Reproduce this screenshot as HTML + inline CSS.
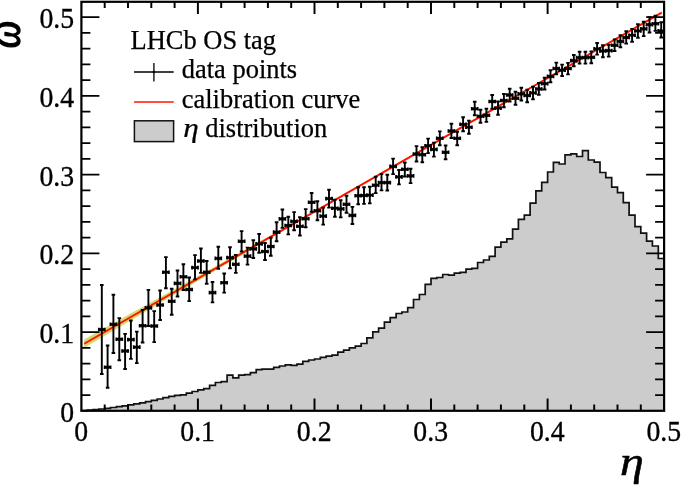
<!DOCTYPE html>
<html><head><meta charset="utf-8"><title>LHCb OS tag calibration</title>
<style>html,body{margin:0;padding:0;background:#fff}svg{display:block}</style></head>
<body>
<svg width="685" height="488" viewBox="0 0 685 488" font-family="'Liberation Serif', 'Times New Roman', serif">
<rect width="685" height="488" fill="#fff"/>
<path d="M81.4,410.8 L81.4,410.6 L87.2,410.6 L87.2,410.2 L93.1,410.2 L93.1,409.7 L98.9,409.7 L98.9,409.0 L104.7,409.0 L104.7,408.3 L110.5,408.3 L110.5,407.5 L116.4,407.5 L116.4,406.7 L122.2,406.7 L122.2,405.8 L128.0,405.8 L128.0,404.9 L133.8,404.9 L133.8,403.9 L139.7,403.9 L139.7,402.8 L145.5,402.8 L145.5,401.6 L151.3,401.6 L151.3,400.4 L157.2,400.4 L157.2,399.0 L163.0,399.0 L163.0,397.6 L168.8,397.6 L168.8,396.3 L174.6,396.3 L174.6,395.4 L180.5,395.4 L180.5,394.8 L186.3,394.8 L186.3,393.1 L192.1,393.1 L192.1,391.5 L197.9,391.5 L197.9,389.9 L203.8,389.9 L203.8,388.6 L209.6,388.6 L209.6,385.4 L215.4,385.4 L215.4,382.5 L221.2,382.5 L221.2,381.7 L227.1,381.7 L227.1,375.2 L232.9,375.2 L232.9,377.8 L238.7,377.8 L238.7,375.2 L244.6,375.2 L244.6,374.7 L250.4,374.7 L250.4,372.7 L256.2,372.7 L256.2,369.6 L262.0,369.6 L262.0,369.2 L267.9,369.2 L267.9,369.2 L273.7,369.2 L273.7,367.4 L279.5,367.4 L279.5,366.0 L285.3,366.0 L285.3,364.9 L291.2,364.9 L291.2,365.3 L297.0,365.3 L297.0,364.1 L302.8,364.1 L302.8,361.3 L308.7,361.3 L308.7,360.0 L314.5,360.0 L314.5,359.0 L320.3,359.0 L320.3,357.3 L326.1,357.3 L326.1,356.1 L332.0,356.1 L332.0,355.1 L337.8,355.1 L337.8,352.1 L343.6,352.1 L343.6,350.1 L349.4,350.1 L349.4,347.9 L355.3,347.9 L355.3,346.2 L361.1,346.2 L361.1,343.5 L366.9,343.5 L366.9,337.8 L372.8,337.8 L372.8,331.9 L378.6,331.9 L378.6,328.2 L384.4,328.2 L384.4,322.1 L390.2,322.1 L390.2,317.7 L396.1,317.7 L396.1,313.5 L401.9,313.5 L401.9,312.0 L407.7,312.0 L407.7,307.6 L413.5,307.6 L413.5,299.5 L419.4,299.5 L419.4,294.5 L425.2,294.5 L425.2,284.4 L431.0,284.4 L431.0,278.3 L436.8,278.3 L436.8,277.5 L442.7,277.5 L442.7,274.5 L448.5,274.5 L448.5,275.1 L454.3,275.1 L454.3,273.2 L460.2,273.2 L460.2,272.3 L466.0,272.3 L466.0,269.2 L471.8,269.2 L471.8,268.3 L477.6,268.3 L477.6,262.5 L483.5,262.5 L483.5,260.0 L489.3,260.0 L489.3,256.3 L495.1,256.3 L495.1,247.1 L500.9,247.1 L500.9,242.2 L506.8,242.2 L506.8,238.8 L512.6,238.8 L512.6,229.2 L518.4,229.2 L518.4,219.4 L524.3,219.4 L524.3,215.1 L530.1,215.1 L530.1,203.1 L535.9,203.1 L535.9,190.8 L541.7,190.8 L541.7,182.4 L547.6,182.4 L547.6,172.0 L553.4,172.0 L553.4,162.3 L559.2,162.3 L559.2,164.0 L565.0,164.0 L565.0,154.9 L570.9,154.9 L570.9,153.9 L576.7,153.9 L576.7,156.5 L582.5,156.5 L582.5,150.7 L588.3,150.7 L588.3,160.0 L594.2,160.0 L594.2,162.1 L600.0,162.1 L600.0,172.5 L605.8,172.5 L605.8,177.6 L611.7,177.6 L611.7,187.1 L617.5,187.1 L617.5,192.7 L623.3,192.7 L623.3,202.6 L629.1,202.6 L629.1,215.1 L635.0,215.1 L635.0,226.6 L640.8,226.6 L640.8,233.2 L646.6,233.2 L646.6,241.2 L652.4,241.2 L652.4,246.0 L658.3,246.0 L658.3,258.5 L664.1,258.5 L664.1,410.8 Z" fill="#cccccc" stroke="none"/>
<path d="M81.4,410.8 L81.4,410.6 L87.2,410.6 L87.2,410.2 L93.1,410.2 L93.1,409.7 L98.9,409.7 L98.9,409.0 L104.7,409.0 L104.7,408.3 L110.5,408.3 L110.5,407.5 L116.4,407.5 L116.4,406.7 L122.2,406.7 L122.2,405.8 L128.0,405.8 L128.0,404.9 L133.8,404.9 L133.8,403.9 L139.7,403.9 L139.7,402.8 L145.5,402.8 L145.5,401.6 L151.3,401.6 L151.3,400.4 L157.2,400.4 L157.2,399.0 L163.0,399.0 L163.0,397.6 L168.8,397.6 L168.8,396.3 L174.6,396.3 L174.6,395.4 L180.5,395.4 L180.5,394.8 L186.3,394.8 L186.3,393.1 L192.1,393.1 L192.1,391.5 L197.9,391.5 L197.9,389.9 L203.8,389.9 L203.8,388.6 L209.6,388.6 L209.6,385.4 L215.4,385.4 L215.4,382.5 L221.2,382.5 L221.2,381.7 L227.1,381.7 L227.1,375.2 L232.9,375.2 L232.9,377.8 L238.7,377.8 L238.7,375.2 L244.6,375.2 L244.6,374.7 L250.4,374.7 L250.4,372.7 L256.2,372.7 L256.2,369.6 L262.0,369.6 L262.0,369.2 L267.9,369.2 L267.9,369.2 L273.7,369.2 L273.7,367.4 L279.5,367.4 L279.5,366.0 L285.3,366.0 L285.3,364.9 L291.2,364.9 L291.2,365.3 L297.0,365.3 L297.0,364.1 L302.8,364.1 L302.8,361.3 L308.7,361.3 L308.7,360.0 L314.5,360.0 L314.5,359.0 L320.3,359.0 L320.3,357.3 L326.1,357.3 L326.1,356.1 L332.0,356.1 L332.0,355.1 L337.8,355.1 L337.8,352.1 L343.6,352.1 L343.6,350.1 L349.4,350.1 L349.4,347.9 L355.3,347.9 L355.3,346.2 L361.1,346.2 L361.1,343.5 L366.9,343.5 L366.9,337.8 L372.8,337.8 L372.8,331.9 L378.6,331.9 L378.6,328.2 L384.4,328.2 L384.4,322.1 L390.2,322.1 L390.2,317.7 L396.1,317.7 L396.1,313.5 L401.9,313.5 L401.9,312.0 L407.7,312.0 L407.7,307.6 L413.5,307.6 L413.5,299.5 L419.4,299.5 L419.4,294.5 L425.2,294.5 L425.2,284.4 L431.0,284.4 L431.0,278.3 L436.8,278.3 L436.8,277.5 L442.7,277.5 L442.7,274.5 L448.5,274.5 L448.5,275.1 L454.3,275.1 L454.3,273.2 L460.2,273.2 L460.2,272.3 L466.0,272.3 L466.0,269.2 L471.8,269.2 L471.8,268.3 L477.6,268.3 L477.6,262.5 L483.5,262.5 L483.5,260.0 L489.3,260.0 L489.3,256.3 L495.1,256.3 L495.1,247.1 L500.9,247.1 L500.9,242.2 L506.8,242.2 L506.8,238.8 L512.6,238.8 L512.6,229.2 L518.4,229.2 L518.4,219.4 L524.3,219.4 L524.3,215.1 L530.1,215.1 L530.1,203.1 L535.9,203.1 L535.9,190.8 L541.7,190.8 L541.7,182.4 L547.6,182.4 L547.6,172.0 L553.4,172.0 L553.4,162.3 L559.2,162.3 L559.2,164.0 L565.0,164.0 L565.0,154.9 L570.9,154.9 L570.9,153.9 L576.7,153.9 L576.7,156.5 L582.5,156.5 L582.5,150.7 L588.3,150.7 L588.3,160.0 L594.2,160.0 L594.2,162.1 L600.0,162.1 L600.0,172.5 L605.8,172.5 L605.8,177.6 L611.7,177.6 L611.7,187.1 L617.5,187.1 L617.5,192.7 L623.3,192.7 L623.3,202.6 L629.1,202.6 L629.1,215.1 L635.0,215.1 L635.0,226.6 L640.8,226.6 L640.8,233.2 L646.6,233.2 L646.6,241.2 L652.4,241.2 L652.4,246.0 L658.3,246.0 L658.3,258.5 L664.1,258.5 L664.1,410.8" fill="none" stroke="#111" stroke-width="1.7" stroke-linejoin="miter"/>
<path d="M84.2,339.4 L93.8,334.1 L103.5,328.7 L113.1,323.3 L122.7,318.0 L132.3,312.6 L142.0,307.3 L151.6,301.9 L161.2,296.5 L170.8,291.2 L180.5,285.8 L190.1,280.4 L199.7,275.0 L209.3,269.7 L219.0,264.3 L228.6,258.9 L238.2,253.5 L247.9,248.1 L257.5,242.7 L267.1,237.3 L276.7,231.9 L286.4,226.5 L296.0,221.1 L305.6,215.7 L315.2,210.2 L324.9,204.7 L334.5,199.2 L344.1,193.7 L353.7,188.2 L363.4,182.7 L373.0,177.1 L382.6,171.6 L392.3,166.1 L401.9,160.6 L411.5,155.1 L421.1,149.6 L430.8,144.0 L440.4,138.5 L450.0,133.0 L459.6,127.5 L469.3,122.0 L478.9,116.5 L488.5,110.9 L498.1,105.4 L507.8,99.9 L517.4,94.4 L527.0,88.9 L536.7,83.4 L546.3,77.8 L555.9,72.3 L565.5,66.8 L575.2,61.3 L584.8,55.8 L594.4,50.3 L604.0,44.7 L613.7,39.2 L623.3,33.7 L632.9,28.2 L642.5,22.7 L652.2,17.2 L661.8,11.6 L661.8,13.6 L652.2,19.2 L642.5,24.7 L632.9,30.2 L623.3,35.7 L613.7,41.2 L604.0,46.7 L594.4,52.3 L584.8,57.8 L575.2,63.3 L565.5,68.8 L555.9,74.3 L546.3,79.8 L536.7,85.4 L527.0,90.9 L517.4,96.4 L507.8,101.9 L498.1,107.4 L488.5,112.9 L478.9,118.5 L469.3,124.0 L459.6,129.5 L450.0,135.0 L440.4,140.5 L430.8,146.0 L421.1,151.6 L411.5,157.1 L401.9,162.6 L392.3,168.1 L382.6,173.6 L373.0,179.1 L363.4,184.7 L353.7,190.2 L344.1,195.7 L334.5,201.2 L324.9,206.7 L315.2,212.2 L305.6,217.8 L296.0,223.4 L286.4,229.1 L276.7,234.7 L267.1,240.3 L257.5,246.0 L247.9,251.6 L238.2,257.2 L228.6,262.9 L219.0,268.5 L209.3,274.2 L199.7,279.9 L190.1,285.5 L180.5,291.2 L170.8,296.8 L161.2,302.5 L151.6,308.2 L142.0,313.9 L132.3,319.5 L122.7,325.2 L113.1,330.9 L103.5,336.6 L93.8,342.2 L84.2,347.9 Z" fill="#d6d870" stroke="none"/>
<line x1="84.2" y1="343.7" x2="661.8" y2="12.6" stroke="#ff1200" stroke-width="1.9"/>
<path d="M101.8,285.0V374.0M100.0,285.0h3.6M100.0,374.0h3.6M98.9,327.7v3.6M104.7,327.7v3.6M107.6,345.5V387.8M105.8,345.5h3.6M105.8,387.8h3.6M104.7,365.4v3.6M110.5,365.4v3.6M113.4,294.7V353.0M111.6,294.7h3.6M111.6,353.0h3.6M110.5,322.5v3.6M116.4,322.5v3.6M119.3,318.1V360.2M117.5,318.1h3.6M117.5,360.2h3.6M116.4,337.4v3.6M122.2,337.4v3.6M125.1,333.9V369.0M123.3,333.9h3.6M123.3,369.0h3.6M122.2,349.2v3.6M128.0,349.2v3.6M130.9,320.5V358.9M129.1,320.5h3.6M129.1,358.9h3.6M128.0,337.8v3.6M133.8,337.8v3.6M136.8,331.6V363.1M135.0,331.6h3.6M135.0,363.1h3.6M133.8,345.3v3.6M139.7,345.3v3.6M142.6,310.0V342.5M140.8,310.0h3.6M140.8,342.5h3.6M139.7,323.9v3.6M145.5,323.9v3.6M148.4,289.9V326.0M146.6,289.9h3.6M146.6,326.0h3.6M145.5,306.1v3.6M151.3,306.1v3.6M154.2,311.1V342.1M152.4,311.1h3.6M152.4,342.1h3.6M151.3,324.2v3.6M157.2,324.2v3.6M160.1,290.5V320.0M158.3,290.5h3.6M158.3,320.0h3.6M157.2,303.2v3.6M163.0,303.2v3.6M165.9,257.1V288.2M164.1,257.1h3.6M164.1,288.2h3.6M163.0,270.4v3.6M168.8,270.4v3.6M171.7,288.7V314.8M169.9,288.7h3.6M169.9,314.8h3.6M168.8,299.5v3.6M174.6,299.5v3.6M177.5,270.5V296.5M175.7,270.5h3.6M175.7,296.5h3.6M174.6,281.6v3.6M180.5,281.6v3.6M183.4,264.3V290.0M181.6,264.3h3.6M181.6,290.0h3.6M180.5,275.0v3.6M186.3,275.0v3.6M189.2,277.5V301.1M187.4,277.5h3.6M187.4,301.1h3.6M186.3,287.7v3.6M192.1,287.7v3.6M195.0,255.1V279.4M193.2,255.1h3.6M193.2,279.4h3.6M192.1,265.8v3.6M197.9,265.8v3.6M200.9,248.5V272.9M199.1,248.5h3.6M199.1,272.9h3.6M197.9,259.2v3.6M203.8,259.2v3.6M206.7,261.0V283.8M204.9,261.0h3.6M204.9,283.8h3.6M203.8,270.4v3.6M209.6,270.4v3.6M212.5,282.0V302.4M210.7,282.0h3.6M210.7,302.4h3.6M209.6,290.8v3.6M215.4,290.8v3.6M218.3,246.8V268.9M216.5,246.8h3.6M216.5,268.9h3.6M215.4,256.6v3.6M221.2,256.6v3.6M224.2,273.5V292.6M222.4,273.5h3.6M222.4,292.6h3.6M221.2,280.9v3.6M227.1,280.9v3.6M230.0,247.2V268.3M228.2,247.2h3.6M228.2,268.3h3.6M227.1,255.8v3.6M232.9,255.8v3.6M235.8,255.0V272.9M234.0,255.0h3.6M234.0,272.9h3.6M232.9,262.5v3.6M238.7,262.5v3.6M241.6,231.1V251.5M239.8,231.1h3.6M239.8,251.5h3.6M238.7,239.5v3.6M244.6,239.5v3.6M247.5,247.6V264.6M245.7,247.6h3.6M245.7,264.6h3.6M244.6,254.3v3.6M250.4,254.3v3.6M253.3,240.3V258.0M251.5,240.3h3.6M251.5,258.0h3.6M250.4,247.1v3.6M256.2,247.1v3.6M259.1,234.0V252.8M257.3,234.0h3.6M257.3,252.8h3.6M256.2,242.1v3.6M262.0,242.1v3.6M265.0,243.0V260.0M263.2,243.0h3.6M263.2,260.0h3.6M262.0,249.7v3.6M267.9,249.7v3.6M270.8,237.7V255.8M269.0,237.7h3.6M269.0,255.8h3.6M267.9,244.7v3.6M273.7,244.7v3.6M276.6,222.3V241.3M274.8,222.3h3.6M274.8,241.3h3.6M273.7,230.3v3.6M279.5,230.3v3.6M282.4,209.5V227.9M280.6,209.5h3.6M280.6,227.9h3.6M279.5,217.1v3.6M285.3,217.1v3.6M288.3,216.7V234.4M286.5,216.7h3.6M286.5,234.4h3.6M285.3,223.7v3.6M291.2,223.7v3.6M294.1,212.1V230.2M292.3,212.1h3.6M292.3,230.2h3.6M291.2,219.5v3.6M297.0,219.5v3.6M299.9,217.3V235.5M298.1,217.3h3.6M298.1,235.5h3.6M297.0,224.5v3.6M302.8,224.5v3.6M305.7,209.1V227.2M303.9,209.1h3.6M303.9,227.2h3.6M302.8,216.9v3.6M308.7,216.9v3.6M311.6,193.0V211.7M309.8,193.0h3.6M309.8,211.7h3.6M308.7,200.5v3.6M314.5,200.5v3.6M317.4,201.3V220.2M315.6,201.3h3.6M315.6,220.2h3.6M314.5,209.0v3.6M320.3,209.0v3.6M323.2,207.6V224.6M321.4,207.6h3.6M321.4,224.6h3.6M320.3,214.3v3.6M326.1,214.3v3.6M329.0,189.8V207.6M327.2,189.8h3.6M327.2,207.6h3.6M326.1,196.8v3.6M332.0,196.8v3.6M334.9,199.7V216.8M333.1,199.7h3.6M333.1,216.8h3.6M332.0,206.4v3.6M337.8,206.4v3.6M340.7,200.3V217.4M338.9,200.3h3.6M338.9,217.4h3.6M337.8,207.1v3.6M343.6,207.1v3.6M346.5,195.7V212.8M344.7,195.7h3.6M344.7,212.8h3.6M343.6,202.5v3.6M349.4,202.5v3.6M352.4,206.9V224.0M350.6,206.9h3.6M350.6,224.0h3.6M349.4,213.6v3.6M355.3,213.6v3.6M358.2,187.2V204.3M356.4,187.2h3.6M356.4,204.3h3.6M355.3,193.9v3.6M361.1,193.9v3.6M364.0,187.2V203.9M362.2,187.2h3.6M362.2,203.9h3.6M361.1,193.7v3.6M366.9,193.7v3.6M369.8,186.8V203.4M368.0,186.8h3.6M368.0,203.4h3.6M366.9,193.3v3.6M372.8,193.3v3.6M375.7,176.7V193.1M373.9,176.7h3.6M373.9,193.1h3.6M372.8,183.4v3.6M378.6,183.4v3.6M381.5,174.1V190.4M379.7,174.1h3.6M379.7,190.4h3.6M378.6,180.8v3.6M384.4,180.8v3.6M387.3,174.7V190.5M385.5,174.7h3.6M385.5,190.5h3.6M384.4,180.8v3.6M390.2,180.8v3.6M393.1,158.6V174.1M391.3,158.6h3.6M391.3,174.1h3.6M390.2,164.6v3.6M396.1,164.6v3.6M399.0,170.0V184.4M397.2,170.0h3.6M397.2,184.4h3.6M396.1,175.1v3.6M401.9,175.1v3.6M404.8,162.5V176.5M403.0,162.5h3.6M403.0,176.5h3.6M401.9,167.5v3.6M407.7,167.5v3.6M410.6,168.7V183.1M408.8,168.7h3.6M408.8,183.1h3.6M407.7,174.1v3.6M413.5,174.1v3.6M416.5,146.1V161.5M414.7,146.1h3.6M414.7,161.5h3.6M413.5,152.2v3.6M419.4,152.2v3.6M422.3,147.2V162.2M420.5,147.2h3.6M420.5,162.2h3.6M419.4,152.9v3.6M425.2,152.9v3.6M428.1,138.6V153.1M426.3,138.6h3.6M426.3,153.1h3.6M425.2,143.9v3.6M431.0,143.9v3.6M433.9,142.6V156.6M432.1,142.6h3.6M432.1,156.6h3.6M431.0,147.6v3.6M436.8,147.6v3.6M439.8,131.4V145.2M438.0,131.4h3.6M438.0,145.2h3.6M436.8,136.5v3.6M442.7,136.5v3.6M445.6,145.5V159.3M443.8,145.5h3.6M443.8,159.3h3.6M442.7,150.5v3.6M448.5,150.5v3.6M451.4,123.8V138.0M449.6,123.8h3.6M449.6,138.0h3.6M448.5,129.2v3.6M454.3,129.2v3.6M457.2,131.7V145.2M455.4,131.7h3.6M455.4,145.2h3.6M454.3,136.5v3.6M460.2,136.5v3.6M463.1,117.2V131.2M461.3,117.2h3.6M461.3,131.2h3.6M460.2,122.5v3.6M466.0,122.5v3.6M468.9,120.6V133.7M467.1,120.6h3.6M467.1,133.7h3.6M466.0,125.4v3.6M471.8,125.4v3.6M474.7,101.8V115.3M472.9,101.8h3.6M472.9,115.3h3.6M471.8,107.0v3.6M477.6,107.0v3.6M480.5,109.7V122.8M478.7,109.7h3.6M478.7,122.8h3.6M477.6,114.5v3.6M483.5,114.5v3.6M486.4,108.8V121.9M484.6,108.8h3.6M484.6,121.9h3.6M483.5,113.5v3.6M489.3,113.5v3.6M492.2,95.0V108.8M490.4,95.0h3.6M490.4,108.8h3.6M489.3,99.7v3.6M495.1,99.7v3.6M498.0,101.5V114.7M496.2,101.5h3.6M496.2,114.7h3.6M495.1,106.3v3.6M500.9,106.3v3.6M503.9,94.0V107.2M502.1,94.0h3.6M502.1,107.2h3.6M500.9,98.7v3.6M506.8,98.7v3.6M509.7,88.8V101.5M507.9,88.8h3.6M507.9,101.5h3.6M506.8,93.2v3.6M512.6,93.2v3.6M515.5,91.7V104.8M513.7,91.7h3.6M513.7,104.8h3.6M512.6,96.5v3.6M518.4,96.5v3.6M521.3,87.7V100.5M519.5,87.7h3.6M519.5,100.5h3.6M518.4,92.1v3.6M524.3,92.1v3.6M527.2,89.7V102.2M525.4,89.7h3.6M525.4,102.2h3.6M524.3,93.7v3.6M530.1,93.7v3.6M533.0,86.8V99.2M531.2,86.8h3.6M531.2,99.2h3.6M530.1,91.1v3.6M535.9,91.1v3.6M538.8,83.0V94.8M537.0,83.0h3.6M537.0,94.8h3.6M535.9,87.2v3.6M541.7,87.2v3.6M544.6,77.7V89.5M542.8,77.7h3.6M542.8,89.5h3.6M541.7,81.8v3.6M547.6,81.8v3.6M550.5,70.2V82.3M548.7,70.2h3.6M548.7,82.3h3.6M547.6,74.6v3.6M553.4,74.6v3.6M556.3,62.6V74.2M554.5,62.6h3.6M554.5,74.2h3.6M553.4,66.7v3.6M559.2,66.7v3.6M562.1,64.6V76.0M560.3,64.6h3.6M560.3,76.0h3.6M559.2,68.4v3.6M565.0,68.4v3.6M568.0,62.9V74.4M566.2,62.9h3.6M566.2,74.4h3.6M565.0,66.7v3.6M570.9,66.7v3.6M573.8,55.0V66.3M572.0,55.0h3.6M572.0,66.3h3.6M570.9,58.8v3.6M576.7,58.8v3.6M579.6,51.8V63.6M577.8,51.8h3.6M577.8,63.6h3.6M576.7,55.8v3.6M582.5,55.8v3.6M585.4,51.8V63.6M583.6,51.8h3.6M583.6,63.6h3.6M582.5,55.8v3.6M588.3,55.8v3.6M591.3,51.4V63.3M589.5,51.4h3.6M589.5,63.3h3.6M588.3,55.5v3.6M594.2,55.5v3.6M597.1,43.0V54.6M595.3,43.0h3.6M595.3,54.6h3.6M594.2,47.1v3.6M600.0,47.1v3.6M602.9,45.3V57.2M601.1,45.3h3.6M601.1,57.2h3.6M600.0,49.2v3.6M605.8,49.2v3.6M608.7,44.9V56.6M606.9,44.9h3.6M606.9,56.6h3.6M605.8,48.8v3.6M611.7,48.8v3.6M614.6,39.4V51.0M612.8,39.4h3.6M612.8,51.0h3.6M611.7,43.5v3.6M617.5,43.5v3.6M620.4,35.2V47.3M618.6,35.2h3.6M618.6,47.3h3.6M617.5,39.6v3.6M623.3,39.6v3.6M626.2,31.3V43.6M624.4,31.3h3.6M624.4,43.6h3.6M623.3,35.7v3.6M629.1,35.7v3.6M632.1,28.9V41.8M630.3,28.9h3.6M630.3,41.8h3.6M629.1,33.4v3.6M635.0,33.4v3.6M637.9,24.3V37.7M636.1,24.3h3.6M636.1,37.7h3.6M635.0,29.1v3.6M640.8,29.1v3.6M643.7,21.7V36.1M641.9,21.7h3.6M641.9,36.1h3.6M640.8,27.1v3.6M646.6,27.1v3.6M649.5,17.1V32.5M647.7,17.1h3.6M647.7,32.5h3.6M646.6,22.9v3.6M652.4,22.9v3.6M655.4,15.8V30.9M653.6,15.8h3.6M653.6,30.9h3.6M652.4,21.9v3.6M658.3,21.9v3.6M661.2,22.3V37.5M659.4,22.3h3.6M659.4,37.5h3.6M658.3,29.1v3.6M664.1,29.1v3.6" fill="none" stroke="#000" stroke-width="1.9"/>
<path d="M98.5,329.5h6.6M104.3,367.2h6.6M110.1,324.3h6.6M116.0,339.2h6.6M121.8,351.0h6.6M127.6,339.6h6.6M133.4,347.1h6.6M139.3,325.7h6.6M145.1,307.9h6.6M150.9,326.0h6.6M156.8,305.0h6.6M162.6,272.2h6.6M168.4,301.3h6.6M174.2,283.4h6.6M180.1,276.8h6.6M185.9,289.5h6.6M191.7,267.6h6.6M197.5,261.0h6.6M203.4,272.2h6.6M209.2,292.6h6.6M215.0,258.4h6.6M220.8,282.7h6.6M226.7,257.6h6.6M232.5,264.3h6.6M238.3,241.3h6.6M244.2,256.1h6.6M250.0,248.9h6.6M255.8,243.9h6.6M261.6,251.5h6.6M267.5,246.5h6.6M273.3,232.1h6.6M279.1,218.9h6.6M284.9,225.5h6.6M290.8,221.3h6.6M296.6,226.3h6.6M302.4,218.7h6.6M308.3,202.3h6.6M314.1,210.8h6.6M319.9,216.1h6.6M325.7,198.6h6.6M331.6,208.2h6.6M337.4,208.9h6.6M343.2,204.3h6.6M349.0,215.4h6.6M354.9,195.7h6.6M360.7,195.5h6.6M366.5,195.1h6.6M372.4,185.2h6.6M378.2,182.6h6.6M384.0,182.6h6.6M389.8,166.4h6.6M395.7,176.9h6.6M401.5,169.3h6.6M407.3,175.9h6.6M413.1,154.0h6.6M419.0,154.7h6.6M424.8,145.7h6.6M430.6,149.4h6.6M436.4,138.3h6.6M442.3,152.3h6.6M448.1,131.0h6.6M453.9,138.3h6.6M459.8,124.3h6.6M465.6,127.2h6.6M471.4,108.8h6.6M477.2,116.3h6.6M483.1,115.3h6.6M488.9,101.5h6.6M494.7,108.1h6.6M500.5,100.5h6.6M506.4,95.0h6.6M512.2,98.3h6.6M518.0,93.9h6.6M523.9,95.5h6.6M529.7,92.9h6.6M535.5,89.0h6.6M541.3,83.6h6.6M547.2,76.4h6.6M553.0,68.5h6.6M558.8,70.2h6.6M564.6,68.5h6.6M570.5,60.6h6.6M576.3,57.6h6.6M582.1,57.6h6.6M587.9,57.3h6.6M593.8,48.9h6.6M599.6,51.0h6.6M605.4,50.6h6.6M611.3,45.3h6.6M617.1,41.4h6.6M622.9,37.5h6.6M628.7,35.2h6.6M634.6,30.9h6.6M640.4,28.9h6.6M646.2,24.7h6.6M652.0,23.7h6.6M657.9,30.9h6.6" fill="none" stroke="#000" stroke-width="2.3"/>
<g fill="#000"><circle cx="101.8" cy="329.5" r="1.9"/><circle cx="107.6" cy="367.2" r="1.9"/><circle cx="113.4" cy="324.3" r="1.9"/><circle cx="119.3" cy="339.2" r="1.9"/><circle cx="125.1" cy="351.0" r="1.9"/><circle cx="130.9" cy="339.6" r="1.9"/><circle cx="136.8" cy="347.1" r="1.9"/><circle cx="142.6" cy="325.7" r="1.9"/><circle cx="148.4" cy="307.9" r="1.9"/><circle cx="154.2" cy="326.0" r="1.9"/><circle cx="160.1" cy="305.0" r="1.9"/><circle cx="165.9" cy="272.2" r="1.9"/><circle cx="171.7" cy="301.3" r="1.9"/><circle cx="177.5" cy="283.4" r="1.9"/><circle cx="183.4" cy="276.8" r="1.9"/><circle cx="189.2" cy="289.5" r="1.9"/><circle cx="195.0" cy="267.6" r="1.9"/><circle cx="200.9" cy="261.0" r="1.9"/><circle cx="206.7" cy="272.2" r="1.9"/><circle cx="212.5" cy="292.6" r="1.9"/><circle cx="218.3" cy="258.4" r="1.9"/><circle cx="224.2" cy="282.7" r="1.9"/><circle cx="230.0" cy="257.6" r="1.9"/><circle cx="235.8" cy="264.3" r="1.9"/><circle cx="241.6" cy="241.3" r="1.9"/><circle cx="247.5" cy="256.1" r="1.9"/><circle cx="253.3" cy="248.9" r="1.9"/><circle cx="259.1" cy="243.9" r="1.9"/><circle cx="265.0" cy="251.5" r="1.9"/><circle cx="270.8" cy="246.5" r="1.9"/><circle cx="276.6" cy="232.1" r="1.9"/><circle cx="282.4" cy="218.9" r="1.9"/><circle cx="288.3" cy="225.5" r="1.9"/><circle cx="294.1" cy="221.3" r="1.9"/><circle cx="299.9" cy="226.3" r="1.9"/><circle cx="305.7" cy="218.7" r="1.9"/><circle cx="311.6" cy="202.3" r="1.9"/><circle cx="317.4" cy="210.8" r="1.9"/><circle cx="323.2" cy="216.1" r="1.9"/><circle cx="329.0" cy="198.6" r="1.9"/><circle cx="334.9" cy="208.2" r="1.9"/><circle cx="340.7" cy="208.9" r="1.9"/><circle cx="346.5" cy="204.3" r="1.9"/><circle cx="352.4" cy="215.4" r="1.9"/><circle cx="358.2" cy="195.7" r="1.9"/><circle cx="364.0" cy="195.5" r="1.9"/><circle cx="369.8" cy="195.1" r="1.9"/><circle cx="375.7" cy="185.2" r="1.9"/><circle cx="381.5" cy="182.6" r="1.9"/><circle cx="387.3" cy="182.6" r="1.9"/><circle cx="393.1" cy="166.4" r="1.9"/><circle cx="399.0" cy="176.9" r="1.9"/><circle cx="404.8" cy="169.3" r="1.9"/><circle cx="410.6" cy="175.9" r="1.9"/><circle cx="416.5" cy="154.0" r="1.9"/><circle cx="422.3" cy="154.7" r="1.9"/><circle cx="428.1" cy="145.7" r="1.9"/><circle cx="433.9" cy="149.4" r="1.9"/><circle cx="439.8" cy="138.3" r="1.9"/><circle cx="445.6" cy="152.3" r="1.9"/><circle cx="451.4" cy="131.0" r="1.9"/><circle cx="457.2" cy="138.3" r="1.9"/><circle cx="463.1" cy="124.3" r="1.9"/><circle cx="468.9" cy="127.2" r="1.9"/><circle cx="474.7" cy="108.8" r="1.9"/><circle cx="480.5" cy="116.3" r="1.9"/><circle cx="486.4" cy="115.3" r="1.9"/><circle cx="492.2" cy="101.5" r="1.9"/><circle cx="498.0" cy="108.1" r="1.9"/><circle cx="503.9" cy="100.5" r="1.9"/><circle cx="509.7" cy="95.0" r="1.9"/><circle cx="515.5" cy="98.3" r="1.9"/><circle cx="521.3" cy="93.9" r="1.9"/><circle cx="527.2" cy="95.5" r="1.9"/><circle cx="533.0" cy="92.9" r="1.9"/><circle cx="538.8" cy="89.0" r="1.9"/><circle cx="544.6" cy="83.6" r="1.9"/><circle cx="550.5" cy="76.4" r="1.9"/><circle cx="556.3" cy="68.5" r="1.9"/><circle cx="562.1" cy="70.2" r="1.9"/><circle cx="568.0" cy="68.5" r="1.9"/><circle cx="573.8" cy="60.6" r="1.9"/><circle cx="579.6" cy="57.6" r="1.9"/><circle cx="585.4" cy="57.6" r="1.9"/><circle cx="591.3" cy="57.3" r="1.9"/><circle cx="597.1" cy="48.9" r="1.9"/><circle cx="602.9" cy="51.0" r="1.9"/><circle cx="608.7" cy="50.6" r="1.9"/><circle cx="614.6" cy="45.3" r="1.9"/><circle cx="620.4" cy="41.4" r="1.9"/><circle cx="626.2" cy="37.5" r="1.9"/><circle cx="632.1" cy="35.2" r="1.9"/><circle cx="637.9" cy="30.9" r="1.9"/><circle cx="643.7" cy="28.9" r="1.9"/><circle cx="649.5" cy="24.7" r="1.9"/><circle cx="655.4" cy="23.7" r="1.9"/><circle cx="661.2" cy="30.9" r="1.9"/></g>
<rect x="81.4" y="1.8" width="582.7" height="409.0" fill="none" stroke="#000" stroke-width="2.2"/>
<path d="M104.7,410.8v-6.2M104.7,1.8v6.2M128.0,410.8v-6.2M128.0,1.8v6.2M151.3,410.8v-6.2M151.3,1.8v6.2M174.6,410.8v-6.2M174.6,1.8v6.2M197.9,410.8v-12.2M197.9,1.8v12.2M221.2,410.8v-6.2M221.2,1.8v6.2M244.6,410.8v-6.2M244.6,1.8v6.2M267.9,410.8v-6.2M267.9,1.8v6.2M291.2,410.8v-6.2M291.2,1.8v6.2M314.5,410.8v-12.2M314.5,1.8v12.2M337.8,410.8v-6.2M337.8,1.8v6.2M361.1,410.8v-6.2M361.1,1.8v6.2M384.4,410.8v-6.2M384.4,1.8v6.2M407.7,410.8v-6.2M407.7,1.8v6.2M431.0,410.8v-12.2M431.0,1.8v12.2M454.3,410.8v-6.2M454.3,1.8v6.2M477.6,410.8v-6.2M477.6,1.8v6.2M500.9,410.8v-6.2M500.9,1.8v6.2M524.3,410.8v-6.2M524.3,1.8v6.2M547.6,410.8v-12.2M547.6,1.8v12.2M570.9,410.8v-6.2M570.9,1.8v6.2M594.2,410.8v-6.2M594.2,1.8v6.2M617.5,410.8v-6.2M617.5,1.8v6.2M640.8,410.8v-6.2M640.8,1.8v6.2" fill="none" stroke="#000" stroke-width="1.95"/>
<path d="M81.4,395.1h9.0M664.1,395.1h-9.0M81.4,379.3h9.0M664.1,379.3h-9.0M81.4,363.6h9.0M664.1,363.6h-9.0M81.4,347.8h9.0M664.1,347.8h-9.0M81.4,332.1h18.0M664.1,332.1h-18.0M81.4,316.3h9.0M664.1,316.3h-9.0M81.4,300.6h9.0M664.1,300.6h-9.0M81.4,284.8h9.0M664.1,284.8h-9.0M81.4,269.1h9.0M664.1,269.1h-9.0M81.4,253.3h18.0M664.1,253.3h-18.0M81.4,237.6h9.0M664.1,237.6h-9.0M81.4,221.8h9.0M664.1,221.8h-9.0M81.4,206.1h9.0M664.1,206.1h-9.0M81.4,190.3h9.0M664.1,190.3h-9.0M81.4,174.6h18.0M664.1,174.6h-18.0M81.4,158.8h9.0M664.1,158.8h-9.0M81.4,143.1h9.0M664.1,143.1h-9.0M81.4,127.3h9.0M664.1,127.3h-9.0M81.4,111.6h9.0M664.1,111.6h-9.0M81.4,95.8h18.0M664.1,95.8h-18.0M81.4,80.1h9.0M664.1,80.1h-9.0M81.4,64.3h9.0M664.1,64.3h-9.0M81.4,48.6h9.0M664.1,48.6h-9.0M81.4,32.8h9.0M664.1,32.8h-9.0M81.4,17.1h18.0M664.1,17.1h-18.0" fill="none" stroke="#000" stroke-width="1.75"/>
<text transform="translate(81.1,441.3) scale(0.92,1)" font-size="30.2" text-anchor="middle" stroke="#000" stroke-width="0.35">0</text>
<text transform="translate(74.2,421.8) scale(0.92,1)" font-size="30.2" text-anchor="end" stroke="#000" stroke-width="0.35">0</text>
<text transform="translate(197.6,441.3) scale(0.92,1)" font-size="30.2" text-anchor="middle" stroke="#000" stroke-width="0.35">0.1</text>
<text transform="translate(74.2,343.1) scale(0.92,1)" font-size="30.2" text-anchor="end" stroke="#000" stroke-width="0.35">0.1</text>
<text transform="translate(314.2,441.3) scale(0.92,1)" font-size="30.2" text-anchor="middle" stroke="#000" stroke-width="0.35">0.2</text>
<text transform="translate(74.2,264.3) scale(0.92,1)" font-size="30.2" text-anchor="end" stroke="#000" stroke-width="0.35">0.2</text>
<text transform="translate(430.7,441.3) scale(0.92,1)" font-size="30.2" text-anchor="middle" stroke="#000" stroke-width="0.35">0.3</text>
<text transform="translate(74.2,185.6) scale(0.92,1)" font-size="30.2" text-anchor="end" stroke="#000" stroke-width="0.35">0.3</text>
<text transform="translate(547.3,441.3) scale(0.92,1)" font-size="30.2" text-anchor="middle" stroke="#000" stroke-width="0.35">0.4</text>
<text transform="translate(74.2,106.8) scale(0.92,1)" font-size="30.2" text-anchor="end" stroke="#000" stroke-width="0.35">0.4</text>
<text transform="translate(663.8,441.3) scale(0.92,1)" font-size="30.2" text-anchor="middle" stroke="#000" stroke-width="0.35">0.5</text>
<text transform="translate(74.2,28.1) scale(0.92,1)" font-size="30.2" text-anchor="end" stroke="#000" stroke-width="0.35">0.5</text>
<text transform="translate(631.8,475.2) scale(1.2,1)" font-size="40" font-style="italic" text-anchor="middle" stroke="#000" stroke-width="0.5">η</text>
<text transform="translate(19.8,34.4) rotate(-90) scale(1,1.25)" font-size="39" font-style="italic" text-anchor="middle" stroke="#000" stroke-width="1.1" stroke-linejoin="round">ω</text>
<text x="130.6" y="48.7" font-size="26.45" stroke="#000" stroke-width="0.25">LHCb OS tag</text>
<text x="181.8" y="78" font-size="26.45" stroke="#000" stroke-width="0.25">data points</text>
<text x="181.8" y="107.6" font-size="26.45" stroke="#000" stroke-width="0.25">calibration curve</text>
<text transform="translate(183.2,137.4) scale(1.18,1)" font-size="26.45" font-style="italic" stroke="#000" stroke-width="0.25">η</text>
<text x="205.3" y="137.4" font-size="26.45" stroke="#000" stroke-width="0.25">distribution</text>
<path d="M134.1,72h39.6M153.9,62.9V81.6" stroke="#000" stroke-width="1.3" fill="none"/>
<circle cx="153.9" cy="72" r="1.3" fill="#000"/>
<line x1="134.1" y1="101.9" x2="173.7" y2="101.9" stroke="#ff1200" stroke-width="1.5"/>
<rect x="134.4" y="120.8" width="39.2" height="20.8" fill="#cccccc" stroke="#111" stroke-width="1.5"/>
</svg>
</body></html>
